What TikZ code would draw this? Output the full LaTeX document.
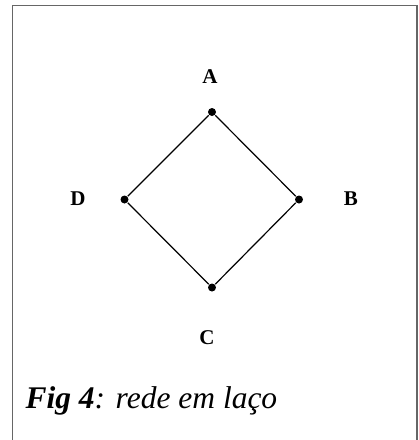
\documentclass[tikz,border=0pt]{standalone}
\usepackage{fontspec}
\setmainfont{Liberation Serif}
\usetikzlibrary{
  calc,
  positioning}

\begin{document}
\begin{tikzpicture}[
  x=1pt,y=-1pt,
  line width=1.2pt,
  vertex/.style={circle,fill=black,inner sep=0pt,minimum size=8pt},
  vlabel/.style={font=\fontsize{21}{23}\selectfont\bfseries,inner sep=0pt},
  frame/.style={draw=black!60,line width=1.5pt}
]%
  \useasboundingbox (0,0) rectangle (419,440);
  \draw[frame] (12.5,445) -- (12.5,5.5) -- (417,5.5) -- (417,445);

  % the four stations of the loop
  \node[vertex] (A) at (212,112) {};
  \node[vertex] (B) at (299,199.5) {};
  \node[vertex] (C) at (212,287.5) {};
  \node[vertex] (D) at (124.5,199.5) {};

  \node[vlabel] (lA) at (210,77) {A};
  \node[vlabel] (lB) at (351,199) {B};
  \node[vlabel] (lC) at (207,338) {C};
  \node[vlabel] (lD) at (78,199) {D};

  \draw (A) -- (B) -- (C) -- (D) -- (A);

  \node[anchor=base west,inner sep=0pt,font=\fontsize{31.5}{33}\selectfont\itshape] (cap) at (25,408)
    {\textbf{Fig 4}: rede em laço};
\end{tikzpicture}
\end{document}
